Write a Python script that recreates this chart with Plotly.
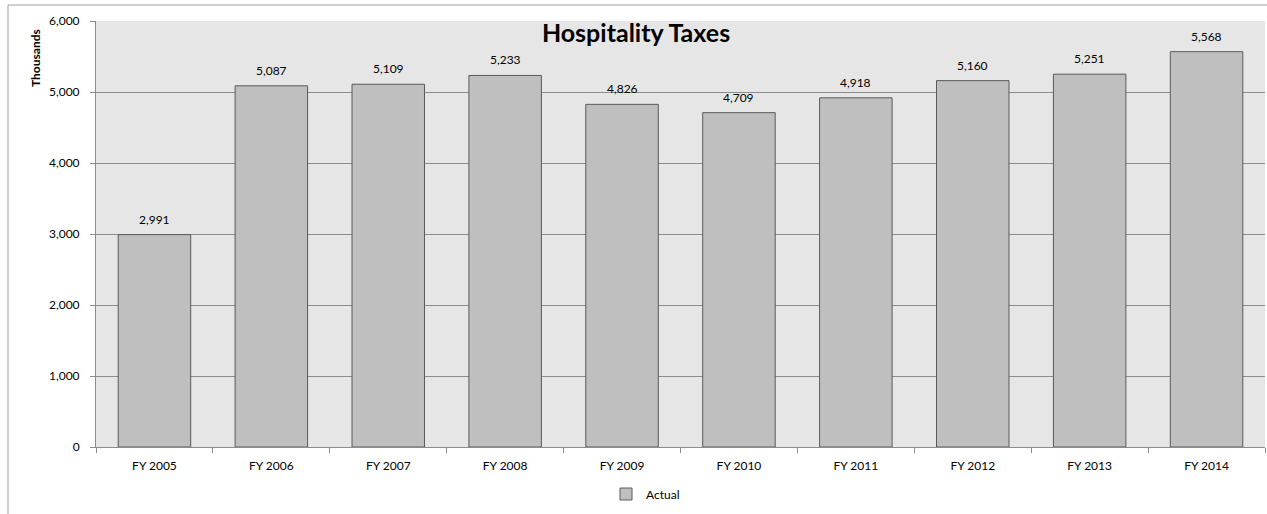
import plotly.graph_objects as go

categories = ["FY 2005", "FY 2006", "FY 2007", "FY 2008", "FY 2009",
              "FY 2010", "FY 2011", "FY 2012", "FY 2013", "FY 2014"]
actual = [2991, 5087, 5109, 5233, 4826, 4709, 4918, 5160, 5251, 5568]
y_ticks = [0, 1000, 2000, 3000, 4000, 5000, 6000]
y_tick_labels = ["0", "1,000", "2,000", "3,000", "4,000", "5,000", "6,000"]

W, H = 1267, 514
L, R, T, B = 96, 2, 21, 67
FONT = "Lato, sans-serif"

fig = go.Figure()
fig.add_trace(go.Bar(
    x=categories, y=actual, name="Actual",
    marker=dict(color="#BFBFBF", line=dict(color="#5A5A5A", width=1)),
))

pw = W - L - R
ph = H - T - B
def px_x(p):
    return (p - L) / pw
def px_y(p):
    return (H - B - p) / ph

annotations = [
    dict(x=c, y=v, xref="x", yref="y", text=f"{v:,}", showarrow=False,
         yanchor="bottom", yshift=6, font=dict(family=FONT, size=12, color="#000000"))
    for c, v in zip(categories, actual)
]
annotations.append(dict(x=px_x(35), y=px_y(58), xref="paper", yref="paper",
                        xanchor="center", yanchor="middle",
                        text="<b>Thousands</b>", textangle=-90, showarrow=False,
                        font=dict(family=FONT, size=12, color="#000000")))

fig.update_layout(
    width=W, height=H,
    margin=dict(l=L, r=R, t=T, b=B),
    paper_bgcolor="white", plot_bgcolor="#E6E6E6",
    bargap=0.38,
    font=dict(family=FONT, size=12, color="#000000"),
    showlegend=True,
    legend=dict(orientation="h", x=px_x(606), xanchor="left", y=px_y(494), yanchor="middle",
                font=dict(size=12), itemwidth=30, tracegroupgap=0),
    title=dict(text="<b>Hospitality Taxes</b>", x=636 / W, xanchor="center",
               y=1 - 33 / H, yanchor="middle", font=dict(size=25, family=FONT)),
    xaxis=dict(type="category", showgrid=False, showline=True, linecolor="#8C8C8C",
               ticks="outside", tickson="boundaries", ticklen=5, tickcolor="#8C8C8C",
               tickfont=dict(size=12), ticklabelstandoff=8),
    yaxis=dict(range=[0, 6000], tickvals=y_ticks, ticktext=y_tick_labels,
               showgrid=True, gridcolor="#8C8C8C", gridwidth=1,
               showline=True, linecolor="#8C8C8C", ticks="outside", ticklen=5,
               tickcolor="#8C8C8C", tickfont=dict(size=12), zeroline=False,
               ticklabelstandoff=8),
    annotations=annotations,
    shapes=[
        dict(type="line", xref="paper", yref="paper",
             x0=px_x(8), x1=px_x(8), y0=px_y(5), y1=px_y(514), line=dict(color="#A0A0A0", width=1)),
        dict(type="line", xref="paper", yref="paper",
             x0=px_x(8), x1=px_x(1267), y0=px_y(5), y1=px_y(5), line=dict(color="#A0A0A0", width=1)),
    ],
)
fig.write_html("out.html")
